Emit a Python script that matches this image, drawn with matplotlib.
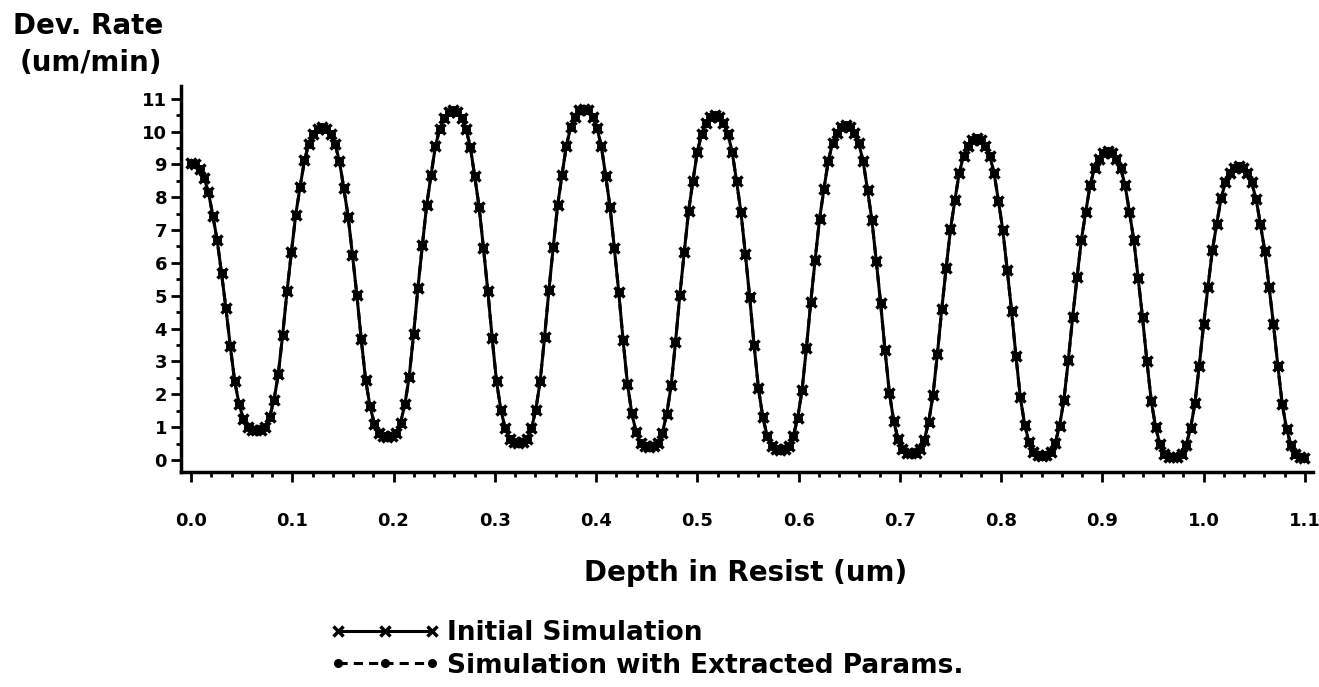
import numpy as np
import matplotlib.pyplot as plt
from matplotlib.ticker import MultipleLocator, FormatStrFormatter

plt.rcParams['font.family'] = ['DejaVu Sans']
plt.rcParams['font.weight'] = 'bold'

# depth grid: one simulated sample every ~4.3 nm (30 samples per standing-wave period)
depth_step = 0.00431

# development rate (um/min), one row per period
rate_initial = [
    9.05, 9.00, 8.85, 8.59, 8.15, 7.44, 6.69, 5.68, 4.62, 3.47, 2.41, 1.71, 1.25, 1.00, 0.92,
    0.90, 0.92, 1.01, 1.30, 1.82, 2.61, 3.81, 5.13, 6.32, 7.47, 8.32, 9.12, 9.63, 9.92, 10.09,
    10.15, 10.09, 9.91, 9.62, 9.10, 8.28, 7.41, 6.24, 5.02, 3.68, 2.45, 1.64, 1.11, 0.81, 0.72,
    0.70, 0.72, 0.82, 1.13, 1.69, 2.54, 3.83, 5.25, 6.53, 7.76, 8.68, 9.55, 10.09, 10.40, 10.59,
    10.65, 10.59, 10.40, 10.08, 9.53, 8.64, 7.71, 6.46, 5.15, 3.71, 2.39, 1.52, 0.96, 0.64, 0.54,
    0.52, 0.54, 0.64, 0.96, 1.53, 2.40, 3.73, 5.17, 6.49, 7.75, 8.68, 9.57, 10.13, 10.45, 10.64,
    10.70, 10.64, 10.44, 10.12, 9.56, 8.66, 7.71, 6.44, 5.11, 3.64, 2.31, 1.42, 0.84, 0.52, 0.42,
    0.40, 0.42, 0.52, 0.83, 1.40, 2.27, 3.58, 5.02, 6.32, 7.57, 8.50, 9.38, 9.93, 10.25, 10.44,
    10.50, 10.44, 10.25, 9.93, 9.37, 8.48, 7.54, 6.28, 4.96, 3.51, 2.19, 1.31, 0.74, 0.42, 0.32,
    0.30, 0.32, 0.42, 0.73, 1.28, 2.13, 3.42, 4.82, 6.10, 7.33, 8.24, 9.10, 9.65, 9.95, 10.14,
    10.20, 10.14, 9.95, 9.64, 9.09, 8.22, 7.30, 6.06, 4.77, 3.35, 2.05, 1.19, 0.63, 0.32, 0.22,
    0.20, 0.22, 0.32, 0.61, 1.15, 1.98, 3.22, 4.59, 5.83, 7.02, 7.90, 8.73, 9.26, 9.56, 9.74,
    9.80, 9.74, 9.56, 9.26, 8.73, 7.88, 6.99, 5.79, 4.54, 3.17, 1.91, 1.08, 0.54, 0.24, 0.14,
    0.12, 0.14, 0.23, 0.52, 1.04, 1.84, 3.04, 4.36, 5.56, 6.71, 7.56, 8.37, 8.88, 9.17, 9.34,
    9.40, 9.34, 9.17, 8.88, 8.37, 7.55, 6.70, 5.54, 4.34, 3.02, 1.80, 1.00, 0.48, 0.19, 0.10,
    0.08, 0.10, 0.19, 0.46, 0.96, 1.72, 2.87, 4.13, 5.28, 6.38, 7.19, 7.97, 8.45, 8.73, 8.90,
    8.95, 8.90, 8.73, 8.45, 7.96, 7.19, 6.37, 5.27, 4.13, 2.87, 1.71, 0.95, 0.45, 0.18, 0.09,
    0.07,
]
# the fit with extracted parameters lies on top of the initial run at this resolution
rate_extracted = list(rate_initial)

depth = np.arange(len(rate_initial)) * depth_step

fig = plt.figure(figsize=(13.19, 6.87), dpi=100)
ax = fig.add_axes([0.1372, 0.3134, 0.858, 0.5614])

ax.plot(depth, rate_initial, color='black', lw=2.2, ls='-', marker='x',
        ms=7, mew=2.5, label='Initial Simulation')
ax.plot(depth, rate_extracted, color='black', lw=2.2, ls=(0, (3, 2)), marker='o',
        ms=5.5, label='Simulation with Extracted Params.')

ax.set_xlim(-0.0099, 1.1076)
ax.set_ylim(-0.356, 11.385)

for s in ['top', 'right']:
    ax.spines[s].set_visible(False)
for s in ['left', 'bottom']:
    ax.spines[s].set_linewidth(2.5)

ax.xaxis.set_major_locator(MultipleLocator(0.1))
ax.xaxis.set_minor_locator(MultipleLocator(0.02))
ax.xaxis.set_major_formatter(FormatStrFormatter('%.1f'))
ax.yaxis.set_major_locator(MultipleLocator(1))
ax.yaxis.set_minor_locator(MultipleLocator(0.5))

ax.tick_params(which='major', direction='out', length=7, width=2, labelsize=13)
ax.tick_params(which='minor', direction='out', length=3.5, width=2)
ax.tick_params(axis='x', which='major', pad=22)
ax.tick_params(axis='y', which='major', pad=3)

fig.text(88 / 1319, 1 - 26 / 687, 'Dev. Rate', ha='center', va='center', fontsize=20)
fig.text(91 / 1319, 1 - 63 / 687, '(um/min)', ha='center', va='center', fontsize=20)
fig.text(746 / 1319, 1 - 573 / 687, 'Depth in Resist (um)', ha='center', va='center', fontsize=20)

fig.legend(loc='upper left', bbox_to_anchor=(330 / 1319, 1 - 620 / 687), frameon=False,
           fontsize=19, numpoints=3, handlelength=4.15, handletextpad=0.3,
           labelspacing=0.25, borderpad=0, borderaxespad=0)

plt.savefig('out.png', dpi=100)
